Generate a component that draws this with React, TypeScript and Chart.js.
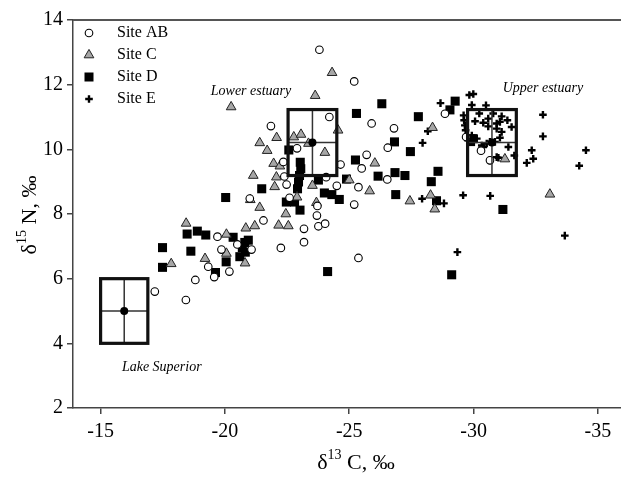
import React, { useEffect, useRef } from "react";
import { Chart, registerables } from "chart.js";

Chart.register(...registerables);

// ---------- data ----------
const seriesNames = ["Site AB", "Site C", "Site D", "Site E"];

const abX = [-23.8, -25.2, -24.2, -21.85, -25.9, -26.8, -26.55, -22.9, -25.7, -24.65, -25.5, -26.53, -24.07, -24.5, -25.37, -22.48, -22.6, -21.0, -25.2, -23.72, -23.7, -23.76, -24.03, -23.18, -23.18, -22.25, -21.55, -21.07, -20.5, -19.7, -19.86, -19.33, -20.18, -19.57, -18.81, -17.18, -18.43, -25.37, -28.85, -30.3, -30.66, -29.7, -22.35, -22.39];
const abY = [13.08, 12.1, 11.0, 10.72, 10.8, 10.65, 10.05, 10.03, 9.83, 9.53, 9.41, 9.07, 9.14, 8.87, 8.83, 8.91, 8.5, 8.48, 8.29, 8.25, 7.95, 7.62, 7.7, 7.54, 7.13, 6.95, 7.8, 6.9, 7.06, 7.3, 6.9, 6.37, 6.22, 6.05, 5.96, 5.6, 5.34, 6.64, 11.1, 9.96, 9.66, 10.38, 9.61, 9.16];

const cX = [-24.31, -23.63, -20.25, -24.55, -28.35, -22.08, -21.4, -21.7, -22.77, -23.06, -23.36, -24.02, -21.96, -22.21, -26.03, -21.14, -22.07, -22.0, -23.52, -25.82, -27.44, -28.27, -28.44, -33.07, -31.26, -21.02, -21.4, -22.45, -22.16, -22.55, -21.2, -20.84, -18.44, -20.06, -20.06, -19.2, -17.84, -20.81, -23.68, -22.9, -25.0];
const cY = [12.37, 11.66, 11.31, 10.59, 10.67, 10.36, 10.2, 9.96, 10.38, 10.46, 10.18, 9.9, 9.56, 9.48, 9.57, 9.19, 9.14, 8.84, 8.88, 8.71, 8.4, 8.58, 8.15, 8.61, 9.7, 8.44, 8.2, 8.0, 7.65, 7.63, 7.63, 7.56, 7.71, 7.37, 6.78, 6.62, 6.46, 6.48, 8.35, 8.52, 9.05];

const dX = [-26.31, -25.29, -27.78, -29.26, -29.05, -26.82, -27.46, -25.25, -26.16, -26.84, -27.24, -28.57, -28.3, -24.89, -26.87, -28.51, -31.18, -29.12, -24.13, -20.03, -21.48, -17.49, -17.49, -18.48, -18.63, -18.89, -19.23, -19.62, -20.05, -20.33, -20.94, -20.8, -20.6, -20.82, -20.7, -22.57, -22.47, -22.8, -23.02, -23.03, -23.05, -23.0, -22.96, -22.92, -23.76, -24.0, -24.3, -24.6, -29.98, -29.88];
const dY = [11.41, 11.11, 11.01, 11.49, 11.22, 10.23, 9.93, 9.67, 9.17, 9.28, 9.19, 9.32, 9.0, 9.08, 8.6, 8.41, 8.14, 6.12, 6.22, 8.51, 8.78, 6.96, 6.35, 7.38, 6.85, 7.47, 7.35, 6.19, 6.52, 7.28, 7.19, 7.12, 6.68, 6.82, 6.96, 9.98, 8.37, 8.37, 8.12, 9.6, 9.4, 9.19, 8.99, 8.78, 9.05, 8.65, 8.6, 8.45, 10.33, 10.24];

const eX = [-28.67, -29.83, -29.99, -29.93, -30.5, -28.16, -27.95, -32.79, -32.79, -32.34, -32.4, -32.14, -34.52, -34.25, -33.67, -29.58, -30.67, -27.93, -28.81, -29.35, -31.64, -29.6, -29.62, -29.65, -29.68, -29.72, -29.78, -30.06, -30.39, -30.59, -30.23, -30.79, -31.13, -31.36, -31.06, -31.53, -31.4, -30.93, -31.13, -30.66, -30.86, -30.53, -30.39, -30.13, -30.93, -30.66, -29.93, -30.59, -30.93, -31.06, -31.0, -30.33];
const eY = [11.43, 11.68, 11.71, 11.37, 11.36, 10.56, 10.2, 11.07, 10.4, 9.97, 9.71, 9.58, 9.97, 9.49, 7.33, 8.58, 8.56, 8.47, 8.33, 6.82, 9.81, 11.05, 10.9, 10.74, 10.59, 10.43, 10.28, 10.87, 10.82, 10.71, 11.11, 11.11, 11.02, 10.9, 10.85, 10.69, 10.07, 10.64, 10.54, 10.23, 10.23, 10.18, 10.07, 10.33, 9.76, 9.66, 10.43, 10.95, 10.8, 10.36, 9.74, 10.12];

// source boxes (mean +/- SD)
const boxNames = ["Lake Superior", "Lower estuary", "Upper estuary"];
const boxMeanX = [-15.95, -23.52, -30.74];
const boxMeanY = [5.0, 10.21, 10.21];
const boxSdX = [0.95, 0.98, 0.98];
const boxSdY = [1.0, 1.02, 1.02];
// label anchor (data coordinates)
const labelX = [-17.46, -21.05, -32.79];
const labelY = [3.27, 11.8, 11.88];

const xTicks = [-15, -20, -25, -30, -35];
const yTicks = [2, 4, 6, 8, 10, 12, 14];
const xMin = -35.93;
const xMax = -13.89;
const yMin = 2;
const yMax = 14;

// ---------- helpers ----------
const SERIF = "'Liberation Serif', 'Times New Roman', serif";
const pts = (xs: number[], ys: number[]) => xs.map((x, i) => ({ x, y: ys[i] }));

type Kind = "circle" | "triangle" | "rect" | "cross";
const kinds: Kind[] = ["circle", "triangle", "rect", "cross"];

function drawMarker(ctx: CanvasRenderingContext2D, kind: Kind, x: number, y: number) {
  ctx.save();
  ctx.beginPath();
  if (kind === "circle") {
    ctx.arc(x, y, 3.8, 0, Math.PI * 2);
    ctx.fillStyle = "#fff";
    ctx.fill();
    ctx.lineWidth = 1.1;
    ctx.strokeStyle = "#000";
    ctx.stroke();
  } else if (kind === "triangle") {
    const r = 5.6;
    for (let k = 0; k < 3; k++) {
      const a = -Math.PI / 2 + (k * 2 * Math.PI) / 3;
      const px = x + Math.cos(a) * r;
      const py = y + Math.sin(a) * r;
      if (k === 0) ctx.moveTo(px, py);
      else ctx.lineTo(px, py);
    }
    ctx.closePath();
    ctx.fillStyle = "#a6a6a6";
    ctx.fill();
    ctx.lineWidth = 1;
    ctx.strokeStyle = "#222";
    ctx.stroke();
  } else if (kind === "rect") {
    ctx.fillStyle = "#000";
    ctx.fillRect(x - 4.5, y - 4.5, 9, 9);
  } else {
    ctx.moveTo(x - 3.8, y);
    ctx.lineTo(x + 3.8, y);
    ctx.moveTo(x, y - 3.8);
    ctx.lineTo(x, y + 3.8);
    ctx.lineWidth = 2.4;
    ctx.strokeStyle = "#000";
    ctx.stroke();
  }
  ctx.restore();
}

function drawSupTitle(
  ctx: CanvasRenderingContext2D,
  sup: string,
  rest: string,
  cx: number,
  cy: number,
  rotate: boolean
) {
  const big = `22px ${SERIF}`;
  const small = `14px ${SERIF}`;
  ctx.save();
  ctx.translate(cx, cy);
  if (rotate) ctx.rotate(-Math.PI / 2);
  ctx.fillStyle = "#000";
  ctx.textBaseline = "middle";
  ctx.font = big;
  const w1 = ctx.measureText("δ").width;
  const w3 = ctx.measureText(rest).width;
  ctx.font = small;
  const w2 = ctx.measureText(sup).width;
  let x = -(w1 + w2 + w3) / 2;
  ctx.font = big;
  ctx.textAlign = "left";
  ctx.fillText("δ", x, 0);
  x += w1;
  ctx.font = small;
  ctx.fillText(sup, x, -8);
  x += w2;
  ctx.font = big;
  ctx.fillText(rest, x, 0);
  ctx.restore();
}

const decorPlugin = {
  id: "decor",
  afterDatasetsDraw(chart: any) {
    const { ctx, scales } = chart;
    const xs = scales.x;
    const ys = scales.y;
    ctx.save();
    for (let i = 0; i < boxNames.length; i++) {
      const x1 = xs.getPixelForValue(boxMeanX[i] + boxSdX[i]);
      const x2 = xs.getPixelForValue(boxMeanX[i] - boxSdX[i]);
      const y1 = ys.getPixelForValue(boxMeanY[i] + boxSdY[i]);
      const y2 = ys.getPixelForValue(boxMeanY[i] - boxSdY[i]);
      const cx = xs.getPixelForValue(boxMeanX[i]);
      const cy = ys.getPixelForValue(boxMeanY[i]);
      ctx.strokeStyle = "#333";
      ctx.lineWidth = 1.5;
      ctx.beginPath();
      ctx.moveTo(cx, Math.min(y1, y2));
      ctx.lineTo(cx, Math.max(y1, y2));
      ctx.moveTo(Math.min(x1, x2), cy);
      ctx.lineTo(Math.max(x1, x2), cy);
      ctx.stroke();
      ctx.strokeStyle = "#111";
      ctx.lineWidth = 3.2;
      ctx.strokeRect(Math.min(x1, x2), Math.min(y1, y2), Math.abs(x2 - x1), Math.abs(y2 - y1));
      ctx.beginPath();
      ctx.arc(cx, cy, 4, 0, Math.PI * 2);
      ctx.fillStyle = "#000";
      ctx.fill();
    }
    ctx.restore();
  },
  afterDraw(chart: any) {
    const { ctx, chartArea, scales } = chart;
    const xs = scales.x;
    const ys = scales.y;
    ctx.save();
    // top frame line
    ctx.strokeStyle = "#555";
    ctx.lineWidth = 2;
    ctx.beginPath();
    ctx.moveTo(chartArea.left, chartArea.top);
    ctx.lineTo(chartArea.right, chartArea.top);
    ctx.stroke();

    // legend
    ctx.font = `16px ${SERIF}`;
    ctx.fillStyle = "#000";
    ctx.textBaseline = "middle";
    ctx.textAlign = "left";
    for (let i = 0; i < seriesNames.length; i++) {
      const y = chartArea.top + 13 + i * 22;
      drawMarker(ctx, kinds[i], chartArea.left + 16, y);
      ctx.fillStyle = "#000";
      ctx.fillText(seriesNames[i], chartArea.left + 44, y);
    }

    // box labels
    ctx.font = `italic 14px ${SERIF}`;
    ctx.textAlign = "center";
    for (let i = 0; i < boxNames.length; i++) {
      ctx.fillText(boxNames[i], xs.getPixelForValue(labelX[i]), ys.getPixelForValue(labelY[i]));
    }
    ctx.restore();

    // axis titles
    drawSupTitle(ctx, "13", " C, ‰", 356, 463, false);
    drawSupTitle(ctx, "15", " N, ‰", 30, 215, true);
  },
};

export default function App() {
  const ref = useRef<HTMLCanvasElement | null>(null);

  useEffect(() => {
    if (!ref.current) return;
    const tickFont = { family: SERIF, size: 20 };
    const chart = new Chart(ref.current, {
      type: "scatter",
      data: {
        datasets: [
          {
            label: seriesNames[0],
            data: pts(abX, abY),
            pointStyle: "circle",
            pointRadius: 3.8,
            backgroundColor: "#fff",
            borderColor: "#000",
            borderWidth: 1.1,
          },
          {
            label: seriesNames[1],
            data: pts(cX, cY),
            pointStyle: "triangle",
            pointRadius: 5.6,
            backgroundColor: "#a6a6a6",
            borderColor: "#222",
            borderWidth: 1,
          },
          {
            label: seriesNames[2],
            data: pts(dX, dY),
            pointStyle: "rect",
            pointRadius: 6.4,
            backgroundColor: "#000",
            borderColor: "#000",
            borderWidth: 0,
          },
          {
            label: seriesNames[3],
            data: pts(eX, eY),
            pointStyle: "cross",
            pointRadius: 3.8,
            borderColor: "#000",
            borderWidth: 2.4,
          },
        ],
      },
      options: {
        responsive: false,
        animation: false,
        events: [],
        layout: { autoPadding: false, padding: { top: 20, left: 0, right: 0, bottom: 0 } },
        plugins: { legend: { display: false }, tooltip: { enabled: false } },
        scales: {
          x: {
            type: "linear",
            reverse: true,
            min: xMin,
            max: xMax,
            afterBuildTicks: (s: any) => {
              s.ticks = xTicks.map((v) => ({ value: v }));
            },
            afterFit: (s: any) => {
              s.height = 71;
              s.paddingLeft = 0;
              s.paddingRight = 0;
            },
            ticks: {
              font: tickFont,
              color: "#000",
              padding: 6,
              maxRotation: 0,
              autoSkip: false,
              callback: (v: any) => String(v),
            },
            grid: {
              display: true,
              drawOnChartArea: false,
              drawTicks: true,
              tickLength: 6,
              color: "#444",
              lineWidth: 1.5,
            },
            border: { display: true, color: "#444", width: 1.5 },
          },
          y: {
            type: "linear",
            min: yMin,
            max: yMax,
            afterBuildTicks: (s: any) => {
              s.ticks = yTicks.map((v) => ({ value: v }));
            },
            afterFit: (s: any) => {
              s.width = 73;
              s.paddingTop = 0;
              s.paddingBottom = 0;
            },
            ticks: {
              font: tickFont,
              color: "#000",
              padding: 4,
              autoSkip: false,
              callback: (v: any) => String(v),
            },
            grid: {
              display: true,
              drawOnChartArea: false,
              drawTicks: true,
              tickLength: 6,
              color: "#444",
              lineWidth: 1.5,
            },
            border: { display: true, color: "#444", width: 1.5 },
          },
        },
      },
      plugins: [decorPlugin],
    } as any);
    return () => chart.destroy();
  }, []);

  return (
    <div style={{ position: "absolute", left: 0, top: 0, width: 621, height: 479, background: "#fff" }}>
      <canvas ref={ref} width={621} height={479} style={{ display: "block" }} />
    </div>
  );
}
